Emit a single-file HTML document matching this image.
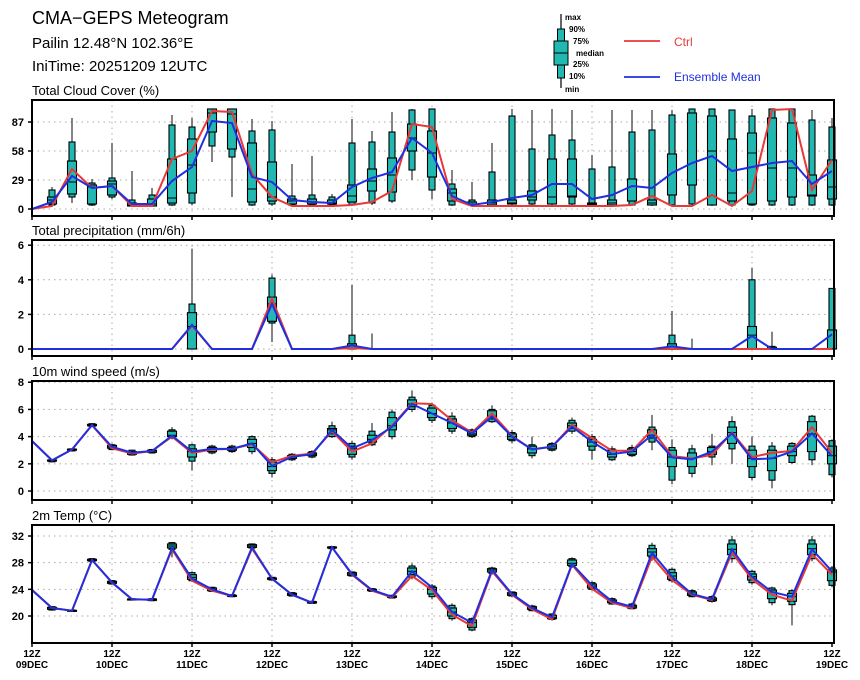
<!DOCTYPE html>
<html><head><meta charset="utf-8">
<style>
html,body{margin:0;padding:0;background:#fff;}
svg{display:block;font-family:"Liberation Sans",sans-serif;}
</style></head>
<body>
<svg id="chart" width="860" height="680" viewBox="0 0 860 680" xmlns="http://www.w3.org/2000/svg">
  <text x="32" y="24" font-size="18">CMA−GEPS Meteogram</text>
  <text x="32" y="48" font-size="15">Pailin 12.48°N 102.36°E</text>
  <text x="32" y="71" font-size="15">IniTime: 20251209 12UTC</text>
  <g>
    <line x1="561" y1="14" x2="561" y2="88" stroke="#000" stroke-width="1.2"/>
    <rect x="557.5" y="29" width="7" height="49" fill="#20b8b0" stroke="#000"/>
    <rect x="554" y="41" width="14" height="24" fill="#20b8b0" stroke="#000"/>
    <line x1="554" y1="53" x2="568" y2="53" stroke="#000"/>
    <g font-size="8" font-weight="bold">
      <text x="565" y="20">max</text><text x="569" y="32">90%</text><text x="573" y="44">75%</text>
      <text x="576" y="56">median</text><text x="573" y="67">25%</text><text x="569" y="79">10%</text><text x="565" y="92">min</text>
    </g>
    <line x1="624" y1="41" x2="660" y2="41" stroke="#e83838" stroke-width="1.8"/>
    <text x="674" y="46" font-size="12" fill="#e83838">Ctrl</text>
    <line x1="624" y1="77" x2="660" y2="77" stroke="#2030e0" stroke-width="1.8"/>
    <text x="674" y="81" font-size="12" fill="#2030e0">Ensemble Mean</text>
  </g>
  <g id="panels"></g>
</svg>
<script>
const xTickLabels1 = ["12Z","12Z","12Z","12Z","12Z","12Z","12Z","12Z","12Z","12Z","12Z"];
const xTickLabels2 = ["09DEC","10DEC","11DEC","12DEC","13DEC","14DEC","15DEC","16DEC","17DEC","18DEC","19DEC"];
const nSteps = 41;

const cloudMin = [null,3,6,3,10,2,2,3,4,47,12,3,3,3,3,3,3,4,6,29,10,3,3,3,3,3,3,3,3,3,3,3,3,3,3,3,3,3,3,3,3];
const cloudP10 = [null,4,12,4,12,3,3,4,6,63,52,4,5,4,4,4,4,6,8,39,19,4,4,4,5,5,5,5,4,4,4,4,4,5,4,4,4,4,4,4,4];
const cloudP25 = [null,5,15,5,14,3,3,6,16,77,60,7,8,5,5,5,7,18,17,58,32,8,4,4,5,9,5,12,4,4,8,4,14,24,4,8,5,8,12,13,10];
const cloudMed = [null,9,27,22,25,4,5,11,44,96,95,20,12,8,7,6,13,28,34,71,56,16,5,6,6,12,12,13,5,6,8,6,14,24,58,16,56,41,41,14,22];
const cloudP75 = [null,12,48,24,28,6,10,50,70,100,100,66,47,10,10,9,24,40,51,85,78,20,7,9,9,18,50,50,6,9,30,9,55,96,93,70,76,91,86,34,49];
const cloudP90 = [null,19,67,26,31,9,14,84,82,100,100,78,79,13,14,12,66,67,77,99,100,25,9,37,93,60,74,69,40,42,77,79,94,100,100,99,93,100,100,89,82];
const cloudMax = [null,22,91,30,66,38,21,94,91,100,100,90,88,45,53,15,90,78,97,100,100,39,27,66,100,99,100,99,54,99,99,99,99,100,100,99,100,100,100,99,91];
const cloudCtrl = [0,3,40,21,23,3,3,50,58,98,97,35,12,3,3,3,4,7,18,85,82,10,3,3,3,3,3,3,3,3,4,13,3,3,14,3,18,99,100,19,49];
const cloudMean = [0,7,33,21,23,5,5,28,42,88,86,32,27,9,7,6,22,31,37,71,56,13,4,7,11,14,25,25,10,14,23,21,36,46,53,38,42,46,48,25,38];
const cloudTicks = [0,29,58,87];

const prMin = [null,0,0,0,0,0,0,0,0,0,0,0,0.4,0,0,0,0,0,0,0,0,0,0,0,0,0,0,0,0,0,0,0,0,0,0,0,0,0,0,0,0];
const prP10 = [null,0,0,0,0,0,0,0,0,0,0,0,1.5,0,0,0,0,0,0,0,0,0,0,0,0,0,0,0,0,0,0,0,0,0,0,0,0,0,0,0,0];
const prP25 = [null,0,0,0,0,0,0,0,0,0,0,0,1.6,0,0,0,0,0,0,0,0,0,0,0,0,0,0,0,0,0,0,0,0,0,0,0,0,0,0,0,0];
const prMed = [null,0,0,0,0,0,0,0,1.3,0,0,0,2.6,0,0,0,0,0,0,0,0,0,0,0,0,0,0,0,0,0,0,0,0,0,0,0,0.8,0,0,0,0];
const prP75 = [null,0,0,0,0,0,0,0,2.1,0,0,0,3.0,0,0,0,0.3,0,0,0,0,0,0,0,0,0,0,0,0,0,0,0,0.3,0,0,0,1.3,0.1,0,0,1.1];
const prP90 = [null,0,0,0,0,0,0,0,2.6,0,0,0,4.1,0,0,0,0.8,0,0,0,0,0,0,0,0,0,0,0,0,0,0,0,0.8,0,0,0,4.0,0.15,0,0,3.5];
const prMax = [null,0,0,0,0,0,0,0,5.8,0,0,0,4.3,0,0,0,3.7,0.9,0,0,0,0,0,0,0,0,0,0,0,0,0,0,2.2,0.6,0,0,4.7,1.0,0,0,3.5];
const prCtrl = [0,0,0,0,0,0,0,0,1.35,0,0,0,2.9,0,0,0,0.05,0,0,0,0,0,0,0,0,0,0,0,0,0,0,0,0,0,0,0,0,0,0,0,0];
const prMean = [0,0,0,0,0,0,0,0,1.4,0,0,0,2.6,0,0,0,0.2,0,0,0,0,0,0,0,0,0,0,0,0,0,0,0,0.15,0,0,0,0.75,0,0,0,0.85];
const prTicks = [0,2,4,6];

const wMin = [null,2.1,2.9,4.7,3.0,2.6,2.75,3.8,1.5,2.7,2.8,2.7,1.0,2.2,2.4,3.9,2.3,3.3,3.8,5.8,5.0,4.2,3.9,5.0,3.5,2.4,2.9,4.2,2.3,2.2,2.5,3.0,0.5,1.0,1.9,2.0,0.8,0.2,2.0,1.9,1.0];
const wP10 = [null,2.15,2.95,4.75,3.05,2.65,2.8,3.9,2.2,2.8,2.9,2.9,1.3,2.3,2.5,4.0,2.5,3.4,4.0,6.0,5.2,4.4,4.0,5.1,3.7,2.6,3.0,4.4,3.0,2.3,2.6,3.6,0.8,1.3,2.5,3.1,1.0,0.8,2.1,2.3,1.2];
const wP25 = [null,2.2,3.0,4.8,3.15,2.7,2.85,4.0,2.5,2.9,3.0,3.2,1.5,2.4,2.6,4.2,2.7,3.6,4.5,6.2,5.4,4.6,4.1,5.3,3.8,2.8,3.1,4.6,3.3,2.5,2.7,3.9,1.8,1.8,2.7,3.5,1.8,1.5,2.6,2.9,2.0];
const wMed = [null,2.25,3.05,4.85,3.25,2.8,2.95,4.1,2.9,3.1,3.1,3.5,1.8,2.5,2.7,4.5,3.1,3.8,4.8,6.4,5.7,5.0,4.2,5.5,4.0,3.1,3.25,4.8,3.6,2.7,2.9,4.1,2.5,2.4,2.9,4.3,2.4,2.4,2.9,4.2,2.6];
const wP75 = [null,2.28,3.08,4.9,3.35,2.9,3.0,4.4,3.1,3.2,3.2,3.8,2.1,2.6,2.8,4.6,3.3,4.1,5.4,6.7,6.1,5.3,4.4,5.9,4.2,3.3,3.4,5.0,3.8,3.0,3.1,4.5,3.0,2.8,3.2,4.7,3.0,3.0,3.3,5.1,3.3];
const wP90 = [null,2.3,3.1,4.95,3.4,3.0,3.05,4.5,3.4,3.3,3.3,4.0,2.3,2.7,2.9,4.8,3.5,4.4,5.8,6.9,6.3,5.5,4.5,6.0,4.3,3.4,3.5,5.2,4.0,3.1,3.2,4.7,3.2,3.1,3.3,5.1,3.3,3.3,3.5,5.5,3.7];
const wMax = [null,2.35,3.15,5.0,3.5,3.05,3.1,4.7,3.5,3.4,3.4,4.1,2.5,2.8,3.0,5.1,3.7,5.0,6.0,7.4,6.5,5.8,4.6,6.3,4.5,4.0,3.6,5.4,4.2,3.3,3.4,5.6,3.8,3.4,4.2,5.5,4.0,3.6,3.6,5.6,3.8];
const wCtrl = [3.68,2.25,3.05,4.85,3.15,2.75,2.94,4.0,2.8,3.05,3.1,3.45,2.1,2.6,2.75,4.4,2.9,3.5,4.8,6.45,6.4,5.2,4.3,5.7,4.05,3.06,3.26,4.85,3.9,2.96,2.96,4.5,2.57,2.4,2.65,4.3,2.5,2.8,2.95,4.7,2.8];
const wMean = [3.68,2.25,3.05,4.85,3.25,2.82,2.94,4.07,2.9,3.1,3.1,3.5,1.85,2.52,2.7,4.49,3.14,3.75,4.73,6.4,5.7,5.0,4.24,5.47,4.0,3.06,3.26,4.73,3.63,2.72,2.9,4.12,2.47,2.33,2.9,4.24,2.33,2.4,2.9,4.24,2.57];
const wTicks = [0,2,4,6,8];

const tMin = [null,20.8,20.6,28.1,24.7,22.3,22.2,28.8,25.1,23.6,22.8,30.0,25.3,22.9,21.8,30.0,25.9,23.6,22.6,25.5,22.5,19.3,17.7,26.2,22.9,20.7,19.3,27.2,23.8,21.7,21.0,28.3,25.0,22.8,22.0,28.0,24.7,21.6,18.6,28.2,24.3];
const tP10 = [null,20.9,20.7,28.2,24.8,22.4,22.3,30.0,25.3,23.7,22.9,30.2,25.4,23.0,21.9,30.1,26.0,23.7,22.7,25.8,22.9,19.6,17.9,26.4,23.0,20.8,19.5,27.4,24.0,21.8,21.1,28.7,25.3,22.9,22.2,28.6,25.0,22.0,21.7,28.6,24.6];
const tP25 = [null,21.0,20.75,28.3,24.9,22.45,22.35,30.2,25.5,23.8,22.95,30.3,25.5,23.1,21.95,30.2,26.1,23.8,22.8,26.2,23.3,20.0,18.3,26.6,23.1,21.0,19.6,27.6,24.2,22.0,21.2,29.0,25.5,23.1,22.3,29.2,25.4,22.6,22.2,29.2,25.3];
const tMed = [null,21.2,20.8,28.4,25.05,22.5,22.45,30.5,25.8,24.0,23.0,30.5,25.6,23.25,22.05,30.3,26.3,23.9,22.9,26.7,24.0,20.6,19.0,26.9,23.3,21.2,19.8,27.9,24.5,22.2,21.4,29.6,26.0,23.3,22.5,30.0,25.9,23.6,22.9,30.1,26.6];
const tP75 = [null,21.3,20.85,28.5,25.2,22.55,22.55,30.8,26.2,24.2,23.1,30.7,25.7,23.4,22.15,30.35,26.5,24.0,23.0,27.2,24.3,21.2,19.4,27.1,23.5,21.4,20.1,28.4,24.8,22.4,21.6,30.1,26.5,23.6,22.7,30.8,26.3,23.9,23.4,30.8,26.9];
const tP90 = [null,21.4,20.9,28.6,25.3,22.6,22.6,31.0,26.5,24.3,23.2,30.8,25.8,23.5,22.2,30.4,26.6,24.1,23.1,27.5,24.5,21.6,19.6,27.2,23.6,21.5,20.3,28.6,25.0,22.6,21.8,30.6,27.0,23.8,22.9,31.4,26.7,24.2,23.8,31.4,27.2];
const tMax = [null,21.5,21.0,28.7,25.4,22.7,22.7,31.1,26.7,24.4,23.3,30.9,25.9,23.6,22.3,30.5,26.7,24.2,23.2,27.9,24.8,21.9,19.8,27.4,23.7,21.7,20.4,28.8,25.2,22.8,22.0,31.0,27.3,24.0,23.1,32.0,26.9,24.4,24.0,32.0,27.5];
const tCtrl = [23.9,21.2,20.8,28.4,25.0,22.5,22.45,30.0,25.3,23.8,23.0,30.1,25.6,23.2,22.0,30.3,26.2,23.8,22.8,26.0,23.9,20.2,18.5,26.7,23.2,21.0,19.5,27.7,24.1,22.0,21.2,28.9,25.4,23.2,22.4,29.5,25.5,23.2,22.3,29.3,26.2];
const tMean = [23.9,21.2,20.8,28.4,25.05,22.5,22.45,30.2,25.6,24.0,23.0,30.3,25.6,23.2,22.0,30.3,26.3,23.9,22.9,26.7,24.3,20.6,19.0,26.9,23.3,21.2,19.8,27.8,24.6,22.2,21.4,29.5,25.9,23.3,22.5,30.0,25.9,23.6,22.9,30.0,26.7];
const tTicks = [20,24,28,32];

const NS = "http://www.w3.org/2000/svg";
const root = document.getElementById('panels');
const X0 = 32, X1 = 834, STEP = 20;
function xs(i){ return X0 + i*STEP; }
function mk(tag, attrs, parent){
  const e = document.createElementNS(NS, tag);
  for (const k in attrs) e.setAttribute(k, attrs[k]);
  (parent||root).appendChild(e);
  return e;
}

function panel(name, title, top, bottom, vmin, vmax, ticks, box, ctrl, mean){
  const g = mk('g', {});
  
  
  const ys = v => bottom - (v - vmin) / (vmax - vmin) * (bottom - top);
  const tt = mk('text', {x: X0, y: top - 5, 'font-size': 13}, g);
  tt.textContent = title;
  
  
  for (let d = 1; d < 10; d++) {
    const gl = mk('line', {x1: xs(d*4), x2: xs(d*4), y1: top, y2: bottom, stroke: '#aaa', 'stroke-dasharray': '1.5,4'}, g);
    
    
  }
  ticks.forEach(t => {
    const y = ys(t);
    const gl = mk('line', {x1: X0, x2: X1, y1: y, y2: y, stroke: '#aaa', 'stroke-dasharray': '1.5,4'}, g);
    
    
    mk('line', {x1: X0-4, x2: X0, y1: y, y2: y, stroke: '#000', 'stroke-width': 1.5}, g);
    const lab = mk('text', {x: X0-8, y: y+4, 'font-size': 11, 'font-weight': 'bold', 'text-anchor': 'end'}, g);
    lab.textContent = t;
    
    
  });
  for (let i = 1; i < nSteps; i++) {
    if (box.mx[i] === null || box.mx[i] <= 0) continue;
    const x = xs(i);
    const bg = mk('g', {}, g);
    
    
    mk('line', {x1: x, x2: x, y1: ys(box.mx[i]), y2: ys(box.mn[i]), stroke: '#333', 'stroke-width': 1.2}, bg);
    if (box.p90[i] > box.p10[i]) mk('rect', {x: x-3, y: ys(box.p90[i]), width: 6, height: Math.max(1, ys(box.p10[i]) - ys(box.p90[i])), fill: '#20b8b0', stroke: '#000', 'stroke-width': 1.1}, bg);
    if (box.p75[i] > box.p25[i]) mk('rect', {x: x-4.5, y: ys(box.p75[i]), width: 9, height: Math.max(1, ys(box.p25[i]) - ys(box.p75[i])), fill: '#20b8b0', stroke: '#000', 'stroke-width': 1.1}, bg);
    if (box.p90[i] > box.p10[i]) mk('line', {x1: x-4.5, x2: x+4.5, y1: ys(box.md[i]), y2: ys(box.md[i]), stroke: '#000', 'stroke-width': 1}, bg);
  }
  const path = arr => arr.map((v,i) => (i ? 'L' : 'M') + xs(i) + ',' + ys(v).toFixed(1)).join('');
  const pc = mk('path', {d: path(ctrl), fill: 'none', stroke: '#e83838', 'stroke-width': 2}, g);
  
  
  const pm = mk('path', {d: path(mean), fill: 'none', stroke: '#2030e0', 'stroke-width': 2}, g);
  
  
  const fr = mk('rect', {x: X0, y: top, width: X1-X0, height: bottom-top, fill: 'none', stroke: '#000', 'stroke-width': 2}, g);
  
  
  for (let d = 0; d <= 10; d++) {
    mk('line', {x1: xs(d*4), x2: xs(d*4), y1: bottom, y2: bottom+4, stroke: '#000', 'stroke-width': 1.5}, g);
  }
}

panel('cloud-panel', 'Total Cloud Cover (%)', 100, 216, -7, 109, cloudTicks,
  {mn: cloudMin, p10: cloudP10, p25: cloudP25, md: cloudMed, p75: cloudP75, p90: cloudP90, mx: cloudMax}, cloudCtrl, cloudMean);
panel('precip-panel', 'Total precipitation (mm/6h)', 240, 356, -0.405, 6.3, prTicks,
  {mn: prMin, p10: prP10, p25: prP25, md: prMed, p75: prP75, p90: prP90, mx: prMax}, prCtrl, prMean);
panel('wind-panel', '10m wind speed (m/s)', 381, 500, -0.66, 8.09, wTicks,
  {mn: wMin, p10: wP10, p25: wP25, md: wMed, p75: wP75, p90: wP90, mx: wMax}, wCtrl, wMean);
panel('temp-panel', '2m Temp (°C)', 525, 643, 15.95, 33.65, tTicks,
  {mn: tMin, p10: tP10, p25: tP25, md: tMed, p75: tP75, p90: tP90, mx: tMax}, tCtrl, tMean);

for (let d = 0; d <= 10; d++) {
  const t1 = mk('text', {x: xs(d*4), y: 657, 'font-size': 10, 'font-weight': 'bold', 'text-anchor': 'middle'});
  t1.textContent = xTickLabels1[d];
  
  
  const t2 = mk('text', {x: xs(d*4), y: 668, 'font-size': 10, 'font-weight': 'bold', 'text-anchor': 'middle'});
  t2.textContent = xTickLabels2[d];
  
  
}
</script>
</body></html>
